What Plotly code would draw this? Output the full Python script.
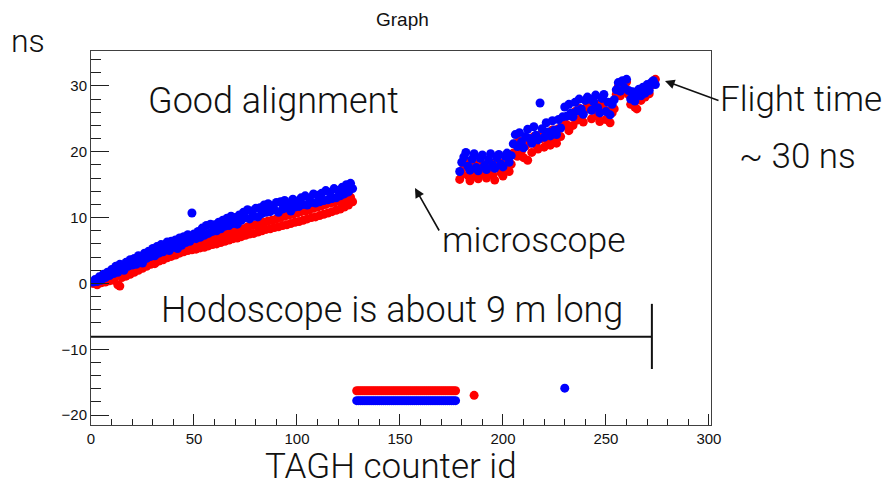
import plotly.graph_objects as go

# ---------------- data ----------------
seg1_ids = list(range(1, 128))
seg1_blue = [0.2, 0.6, 0.3, 1.0, 0.5, 1.4, 0.9, 1.7, 1.2, 2.1,
             1.5, 2.6, 1.7, 2.9, 2.3, 2.0, 3.2, 2.6, 3.6, 2.8,
             3.8, 2.9, 4.2, 3.5, 3.1, 4.6, 3.8, 4.9, 4.1, 5.3,
             4.2, 5.6, 4.6, 5.9, 4.8, 5.2, 6.3, 5.0, 6.4, 5.5,
             6.6, 5.3, 6.9, 5.8, 7.1, 6.2, 7.4, 6.4, 10.7, 7.5,
             6.8, 7.9, 7.0, 8.4, 7.3, 8.8, 7.6, 9.0, 7.9, 8.9,
             8.0, 9.3, 8.3, 9.6, 8.7, 9.9, 8.8, 10.2, 9.1, 10.0,
             9.0, 10.4, 9.6, 10.8, 10.0, 11.2, 9.8, 11.0, 10.2, 11.4,
             10.1, 11.5, 10.6, 11.9, 10.8, 12.1, 10.9, 11.8, 11.2, 12.3,
             10.8, 12.4, 11.3, 12.6, 11.5, 12.2, 11.0, 12.8, 11.6, 12.5,
             11.7, 13.0, 12.0, 13.3, 11.9, 12.9, 12.3, 13.6, 12.2, 13.4,
             12.4, 13.7, 12.6, 14.1, 12.7, 13.8, 12.9, 14.4, 13.0, 14.1,
             13.3, 14.6, 13.6, 15.0, 13.9, 15.2, 14.4]
seg1_red = [0.0, 0.3, -0.2, 0.5, 0.1, 0.7, 0.2, 0.9, 0.4, 1.1,
            0.5, 1.3, -0.2, -0.4, 0.9, 1.6, 1.1, 2.0, 1.4, 2.4,
            1.7, 2.7, 2.0, 3.0, 2.3, 3.3, 2.6, 3.7, 2.9, 3.9,
            3.0, 4.2, 3.4, 4.5, 3.6, 4.8, 3.9, 5.0, 4.1, 5.2,
            4.3, 5.4, 4.6, 5.7, 4.8, 5.9, 5.0, 6.2, 5.1, 6.3,
            5.2, 6.4, 5.4, 6.6, 5.5, 6.8, 5.7, 6.9, 5.9, 7.0,
            6.0, 7.2, 6.2, 7.4, 6.4, 7.6, 6.6, 7.8, 6.8, 7.9,
            6.9, 8.1, 7.1, 8.3, 7.3, 8.6, 7.5, 8.8, 7.6, 8.9,
            7.8, 9.1, 8.0, 9.3, 8.2, 9.5, 8.3, 9.6, 8.5, 9.8,
            8.6, 10.0, 8.8, 10.2, 8.9, 10.4, 9.1, 10.5, 9.3, 10.7,
            9.4, 10.9, 9.6, 11.0, 9.8, 11.2, 10.0, 11.4, 10.1, 11.6,
            10.3, 11.8, 10.5, 12.0, 10.7, 12.2, 10.9, 12.3, 11.1, 12.5,
            11.3, 12.7, 11.6, 12.9, 11.9, 13.1, 12.4]

seg2_ids = list(range(179, 275))
seg2_blue = [17.0, 18.4, 19.2, 19.9, 17.8, 17.2, 18.9, 19.7, 17.6, 17.1,
             19.0, 19.5, 17.9, 17.3, 18.8, 19.7, 18.0, 17.5, 19.1, 19.6,
             18.1, 17.7, 19.3, 19.8, 18.4, 19.4,
             21.2, 22.6, 20.8, 22.9, 21.5, 20.6, 22.3, 23.4, 22.0, 21.3,
             23.8, 22.5, 21.8, 27.4, 23.5, 22.2, 24.4, 23.0, 22.4, 24.7,
             23.3, 22.6, 24.9, 23.6, 25.3,
             26.8, 25.4, 27.2, 25.9, 25.3, 27.5, 26.2, 28.0, 26.5, 25.7,
             27.8, 28.3, 28.0, 26.3, 27.6, 28.6, 26.7, 25.9, 28.1, 28.7,
             26.1, 27.5, 25.6, 27.2, 27.9,
             29.4, 30.5, 29.2, 30.8, 29.7, 31.0, 29.3,
             28.0, 29.1, 27.7, 28.8, 29.5, 28.5, 29.8, 28.9, 30.2, 29.3,
             30.5, 30.8, 30.2]
seg2_red = [15.8, 16.6, 17.6, 18.5, 16.4, 15.6, 17.2, 18.2, 16.3, 15.9,
            17.5, 18.1, 16.6, 16.0, 17.3, 18.3, 16.5, 15.7, 17.6, 18.4,
            16.8, 16.3, 17.9, 18.6, 17.0, 18.1,
            19.8, 21.2, 19.3, 21.6, 20.1, 19.1, 20.9, 18.7, 21.3, 19.9,
            22.3, 21.1, 20.4, 22.5, 22.0, 20.7, 22.9, 21.6, 21.0, 23.3,
            22.0, 21.3, 23.5, 22.3, 24.0,
            25.2, 24.1, 23.2, 25.4, 24.0, 26.1, 24.8, 26.6, 25.2, 24.5,
            26.4, 27.0, 26.8, 25.0, 26.3, 27.3, 25.4, 24.6, 26.7, 27.4,
            24.9, 26.2, 24.4, 25.9, 26.5,
            28.7, 29.9, 28.5, 30.3, 29.1, 30.6, 28.7,
            27.2, 28.3, 26.8, 26.5, 28.6, 27.8, 29.1, 28.3, 29.6, 28.8,
            30.1, 30.5, 31.0]

row_ids = list(range(129, 178))
row_red_value = -16.3
row_blue_value = -17.8
extra_red = ([186], [-17.0])
extra_blue = ([230], [-15.9])

x_ticks = [0, 50, 100, 150, 200, 250, 300]
y_ticks = [-20, -10, 0, 10, 20, 30]

# ---------------- assemble traces ----------------
red_x = seg1_ids + seg2_ids + row_ids + extra_red[0]
red_y = seg1_red + seg2_red + [row_red_value] * len(row_ids) + extra_red[1]
blue_x = seg1_ids + seg2_ids + row_ids + extra_blue[0]
blue_y = seg1_blue + seg2_blue + [row_blue_value] * len(row_ids) + extra_blue[1]

fig = go.Figure()
fig.add_trace(go.Scatter(x=red_x, y=red_y, mode="markers",
                         marker=dict(color="#ff0000", size=9, line=dict(width=0)),
                         showlegend=False, hoverinfo="skip"))
fig.add_trace(go.Scatter(x=blue_x, y=blue_y, mode="markers",
                         marker=dict(color="#0000ff", size=9, line=dict(width=0)),
                         showlegend=False, hoverinfo="skip"))

# ---------------- layout ----------------
W, H = 885, 488
L, R, T, B = 91, 711, 51, 425


def px(x):
    return (x - L) / (R - L)


def py(y):
    return (B - y) / (B - T)


ROOT_FONT = "Liberation Sans, Arial, Helvetica, sans-serif"
NOTE_FONT = "Roboto, Liberation Sans, sans-serif"

axis_common = dict(showgrid=False, zeroline=False, showline=True, mirror=True,
                   linecolor="#404040", linewidth=1, ticks="inside",
                   tickcolor="#202020", tickwidth=1,
                   tickfont=dict(family=ROOT_FONT, size=15, color="#111"))

fig.update_layout(
    width=W, height=H,
    margin=dict(l=L, r=W - R, t=T, b=H - B, pad=0),
    paper_bgcolor="white", plot_bgcolor="white",
    xaxis=dict(range=[0, 301], tickvals=x_ticks, ticklen=11,
               minor=dict(ticks="inside", ticklen=6, dtick=10, tick0=0,
                          tickcolor="#202020"),
               **axis_common),
    yaxis=dict(range=[-21.5, 35.3], tickvals=y_ticks, ticklen=18,
               minor=dict(ticks="inside", ticklen=10, dtick=2, tick0=0,
                          tickcolor="#202020"),
               **axis_common),
)

notes = [
    ("Graph", 402, 20, 19, ROOT_FONT, 400, "middle"),
    ("ns", 28, 41, 32, NOTE_FONT, 300, "middle"),
    ("Good alignment", 273, 101, 36, NOTE_FONT, 300, "middle"),
    ("Flight time", 801, 100, 35, NOTE_FONT, 300, "middle"),
    ("~ 30 ns", 797, 156, 35, NOTE_FONT, 300, "middle"),
    ("microscope", 534, 240, 35.5, NOTE_FONT, 300, "middle"),
    ("Hodoscope is about 9 m long", 392, 310, 36, NOTE_FONT, 300, "middle"),
    ("TAGH counter id", 391, 488, 35, NOTE_FONT, 300, "bottom"),
]
for text, cx, cy, size, fam, wt, ya in notes:
    fig.add_annotation(text=text, xref="paper", yref="paper",
                       x=px(cx), y=py(cy), xanchor="center", yanchor=ya,
                       showarrow=False, borderpad=0,
                       font=dict(family=fam, size=size, color="#111", weight=wt))

# arrows (tip, tail in pixels)
for tip, tail in [((665, 81), (720, 101)), ((415, 188), (440, 232))]:
    fig.add_annotation(text="", xref="paper", yref="paper",
                       x=px(tip[0]), y=py(tip[1]),
                       ax=tail[0] - tip[0], ay=tail[1] - tip[1],
                       showarrow=True, arrowhead=2, arrowsize=1.2,
                       arrowwidth=1.6, arrowcolor="#111")

# hodoscope length bar
fig.add_shape(type="line", xref="x", yref="y", x0=0, x1=272.3, y0=-8.1, y1=-8.1,
              line=dict(color="#111", width=2))
fig.add_shape(type="line", xref="x", yref="y", x0=272.3, x1=272.3, y0=-3.1, y1=-13.0,
              line=dict(color="#111", width=2))

fig.write_html("out.html")
